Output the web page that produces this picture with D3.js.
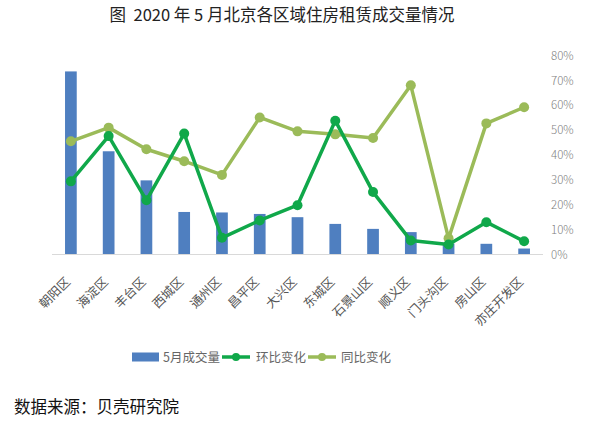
<!DOCTYPE html>
<html><head><meta charset="utf-8">
<script src="https://cdn.jsdelivr.net/npm/d3@7"></script>
<style>
html,body{margin:0;padding:0;background:#fff;}
text{font-family:"Noto Sans CJK SC","Noto Sans",sans-serif;}
</style></head>
<body><svg id="c" width="600" height="421"></svg>
<script>
const categories = ["朝阳区","海淀区","丰台区","西城区","通州区","昌平区","大兴区","东城区","石景山区","顺义区","门头沟区","房山区","亦庄开发区"];
const volume = [73.6, 41.5, 29.8, 17.1, 16.9, 16.3, 15.0, 12.3, 10.3, 9.0, 4.4, 4.3, 2.4];
const momChange = [29.4, 47.6, 21.8, 48.6, 6.7, 13.7, 19.8, 53.8, 25.1, 5.6, 4.0, 13.0, 5.3];
const yoyChange = [45.5, 51.0, 42.3, 37.5, 32.0, 55.1, 49.5, 48.3, 46.8, 68.0, 6.5, 52.7, 59.2];
const pctTicks = [0, 10, 20, 30, 40, 50, 60, 70, 80];
const seriesNames = ["5月成交量", "环比变化", "同比变化"];
const titleText = "图  2020 年 5 月北京各区域住房租赁成交量情况";
const sourceText = "数据来源：贝壳研究院";

(function () {
const svg = d3.select("#c");
const colBar = "#4F7FC0", colMom = "#10A84A", colYoy = "#9BBB59";
const pLeft = 52, pRight = 543, pTop = 55.5, pBottom = 254.5;

const x = d3.scaleBand().domain(categories).range([pLeft, pRight]).paddingInner(0.69).paddingOuter(0.345);
const yL = d3.scaleLinear().domain([0, 80]).range([pBottom, pTop]);
const yR = d3.scaleLinear().domain([0, 80]).range([pBottom, pTop]);
const cx = c => x(c) + x.bandwidth() / 2;

svg.append("text").attr("x", 282).attr("y", 21).attr("text-anchor", "middle")
  .style("white-space", "pre")
  .attr("font-size", 16.5).attr("fill", "#222").text(titleText);

svg.append("g").selectAll("rect").data(categories).join("rect")
  .attr("x", d => x(d)).attr("width", x.bandwidth())
  .attr("y", (d, i) => yL(volume[i])).attr("height", (d, i) => yL(0) - yL(volume[i]))
  .attr("fill", colBar);

svg.append("line").attr("x1", pLeft).attr("x2", pRight).attr("y1", pBottom).attr("y2", pBottom)
  .attr("stroke", "#D9D9D9").attr("stroke-width", 1.2);

const ax = svg.append("g").attr("transform", `translate(548,0)`)
  .call(d3.axisRight(yR).tickValues(pctTicks).tickFormat(d => d + "%").tickSize(0).tickPadding(3));
ax.select(".domain").remove();
ax.selectAll("text").attr("font-size", 11.5).attr("fill", "#808080")
  .attr("font-family", "'Noto Sans CJK SC', sans-serif").style("font-weight", 300);

const xa = svg.append("g").attr("transform", `translate(0,${pBottom})`)
  .call(d3.axisBottom(x).tickSize(0).tickPadding(0));
xa.select(".domain").remove();
xa.selectAll("text").attr("font-size", 12.5).attr("fill", "#555")
  .attr("font-family", "'Noto Sans CJK SC', sans-serif")
  .attr("text-anchor", "end").attr("dy", "0.35em")
  .attr("transform", "translate(-3,25) rotate(-45)");

function drawLine(vals, color) {
  const line = d3.line().x((d, i) => cx(categories[i])).y(d => yR(d));
  svg.append("path").datum(vals).attr("d", line).attr("fill", "none")
    .attr("stroke", color).attr("stroke-width", 3.5).attr("stroke-linejoin", "round");
  svg.append("g").selectAll("circle").data(vals).join("circle")
    .attr("cx", (d, i) => cx(categories[i])).attr("cy", d => yR(d)).attr("r", 5).attr("fill", color);
}
drawLine(yoyChange, colYoy);
drawLine(momChange, colMom);

const lg = svg.append("g").attr("font-size", 12.5).attr("fill", "#666");
lg.append("rect").attr("x", 132).attr("y", 352.5).attr("width", 27).attr("height", 9).attr("fill", colBar);
lg.append("text").attr("x", 163).attr("y", 361.5).attr("fill", "#666").text(seriesNames[0]);
[[222, colMom, seriesNames[1], 256], [308, colYoy, seriesNames[2], 341]].forEach(([lx, c, t, tx]) => {
  lg.append("line").attr("x1", lx).attr("x2", lx + 28).attr("y1", 357).attr("y2", 357).attr("stroke", c).attr("stroke-width", 3.5);
  lg.append("circle").attr("cx", lx + 14).attr("cy", 357).attr("r", 4).attr("fill", c);
  lg.append("text").attr("x", tx).attr("y", 361.5).attr("fill", "#666").text(t);
});

svg.append("text").attr("x", 14).attr("y", 413).attr("font-size", 16.5).attr("fill", "#111").text(sourceText);
})();
</script></body></html>
